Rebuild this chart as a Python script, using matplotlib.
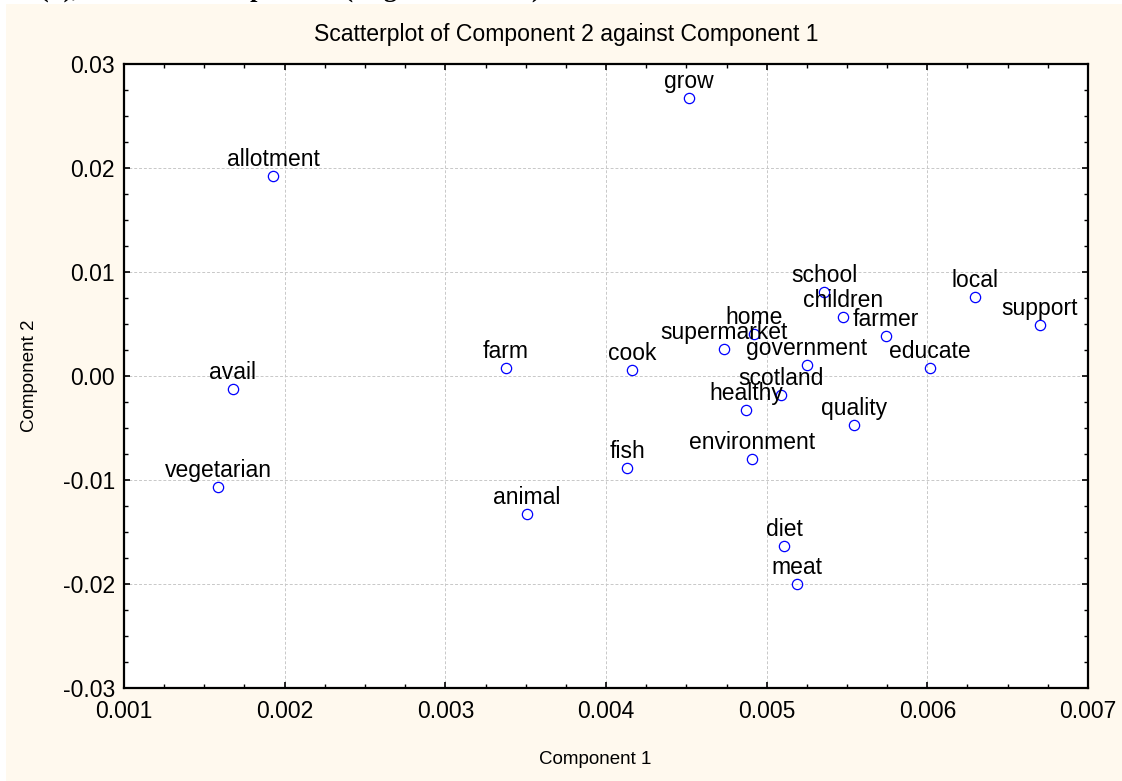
import matplotlib
matplotlib.use("Agg")
import matplotlib.pyplot as plt
from matplotlib.patches import Rectangle
from matplotlib.ticker import MultipleLocator, FormatStrFormatter

# ---- data ----
words = ["grow", "allotment", "avail", "vegetarian", "farm", "cook", "animal", "fish",
         "supermarket", "home", "school", "children", "farmer", "government", "educate",
         "scotland", "healthy", "quality", "environment", "local", "support", "diet", "meat"]
comp1 = [0.004517, 0.001927, 0.001678, 0.001585, 0.003378, 0.004162, 0.003508, 0.004131,
         0.004734, 0.004921, 0.005357, 0.005475, 0.005743, 0.005251, 0.006017,
         0.005089, 0.004871, 0.005544, 0.004909, 0.006297, 0.006701, 0.005108, 0.005189]
comp2 = [0.02673, 0.01923, -0.00125, -0.01067, 0.00077, 0.00058, -0.01327, -0.00885,
         0.00260, 0.00404, 0.00808, 0.00567, 0.00385, 0.00106, 0.00077,
         -0.00183, -0.00327, -0.00471, -0.00798, 0.00760, 0.00490, -0.01635, -0.02000]

title = "Scatterplot of Component 2 against Component 1"
xlabel = "Component 1"
ylabel = "Component 2"

W, H = 1122, 781
fig = plt.figure(figsize=(W / 100, H / 100), dpi=100, facecolor="white")
plt.rcParams["font.family"] = ["Liberation Sans", "DejaVu Sans"]

# cream panel background
fig.patches.append(Rectangle((6 / W, 0), 1 - 6 / W, 1 - 4 / H, transform=fig.transFigure,
                             facecolor="#FFF9EE", edgecolor="none", zorder=-10))

# clipped heading from surrounding document (only descenders visible)
fig.text(128 / W, 1 + 3 / H, "(b), and", ha="right", va="baseline", fontsize=19,
         family="Liberation Serif", weight="bold", zorder=-5)
fig.text(196 / W, 1 + 3 / H, "Components (Regional Scores)", ha="left", va="baseline",
         fontsize=19, family="Liberation Serif", weight="bold", zorder=-5)

ax = fig.add_axes([124 / W, 1 - 688 / H, (1088 - 124) / W, (688 - 64) / H])
ax.set_zorder(2)
ax.set_facecolor("white")

ax.plot(comp1, comp2, linestyle="none", marker="o", markersize=7.4,
        markerfacecolor="none", markeredgecolor="#0000FF", markeredgewidth=0.9, zorder=3)
for w, x, y in zip(words, comp1, comp2):
    ax.annotate(w, (x, y), xytext=(0, 7.5), textcoords="offset points",
                ha="center", va="baseline", fontsize=16.5, color="black", zorder=4)

ax.set_xlim(0.001, 0.007)
ax.set_ylim(-0.03, 0.03)
ax.xaxis.set_major_locator(MultipleLocator(0.001))
ax.xaxis.set_minor_locator(MultipleLocator(0.00025))
ax.yaxis.set_major_locator(MultipleLocator(0.01))
ax.yaxis.set_minor_locator(MultipleLocator(0.0025))
ax.xaxis.set_major_formatter(FormatStrFormatter("%.3f"))
ax.yaxis.set_major_formatter(FormatStrFormatter("%.2f"))
ax.grid(True, which="major", linestyle=(0, (3, 2)), color="#C8C8C8", linewidth=0.7)
ax.set_axisbelow(True)

ax.tick_params(which="both", direction="in", top=True, right=True, color="black")
ax.tick_params(which="major", length=4, width=1.2, labelsize=16.5)
ax.tick_params(axis="x", which="major", pad=9)
ax.tick_params(axis="y", which="major", pad=6.5)
ax.tick_params(which="minor", length=3, width=1.0)
for s in ax.spines.values():
    s.set_linewidth(1.6)
    s.set_color("black")

fig.text(566 / W, 1 - 35 / H, title, ha="center", va="center", fontsize=16.6)
fig.text(30 / W, 1 - 376 / H, ylabel, ha="center", va="center", rotation=90, fontsize=13.5)
fig.text(595 / W, 1 - 760 / H, xlabel, ha="center", va="center", fontsize=13.5)

fig.savefig("out.png", dpi=100, facecolor=fig.get_facecolor())
